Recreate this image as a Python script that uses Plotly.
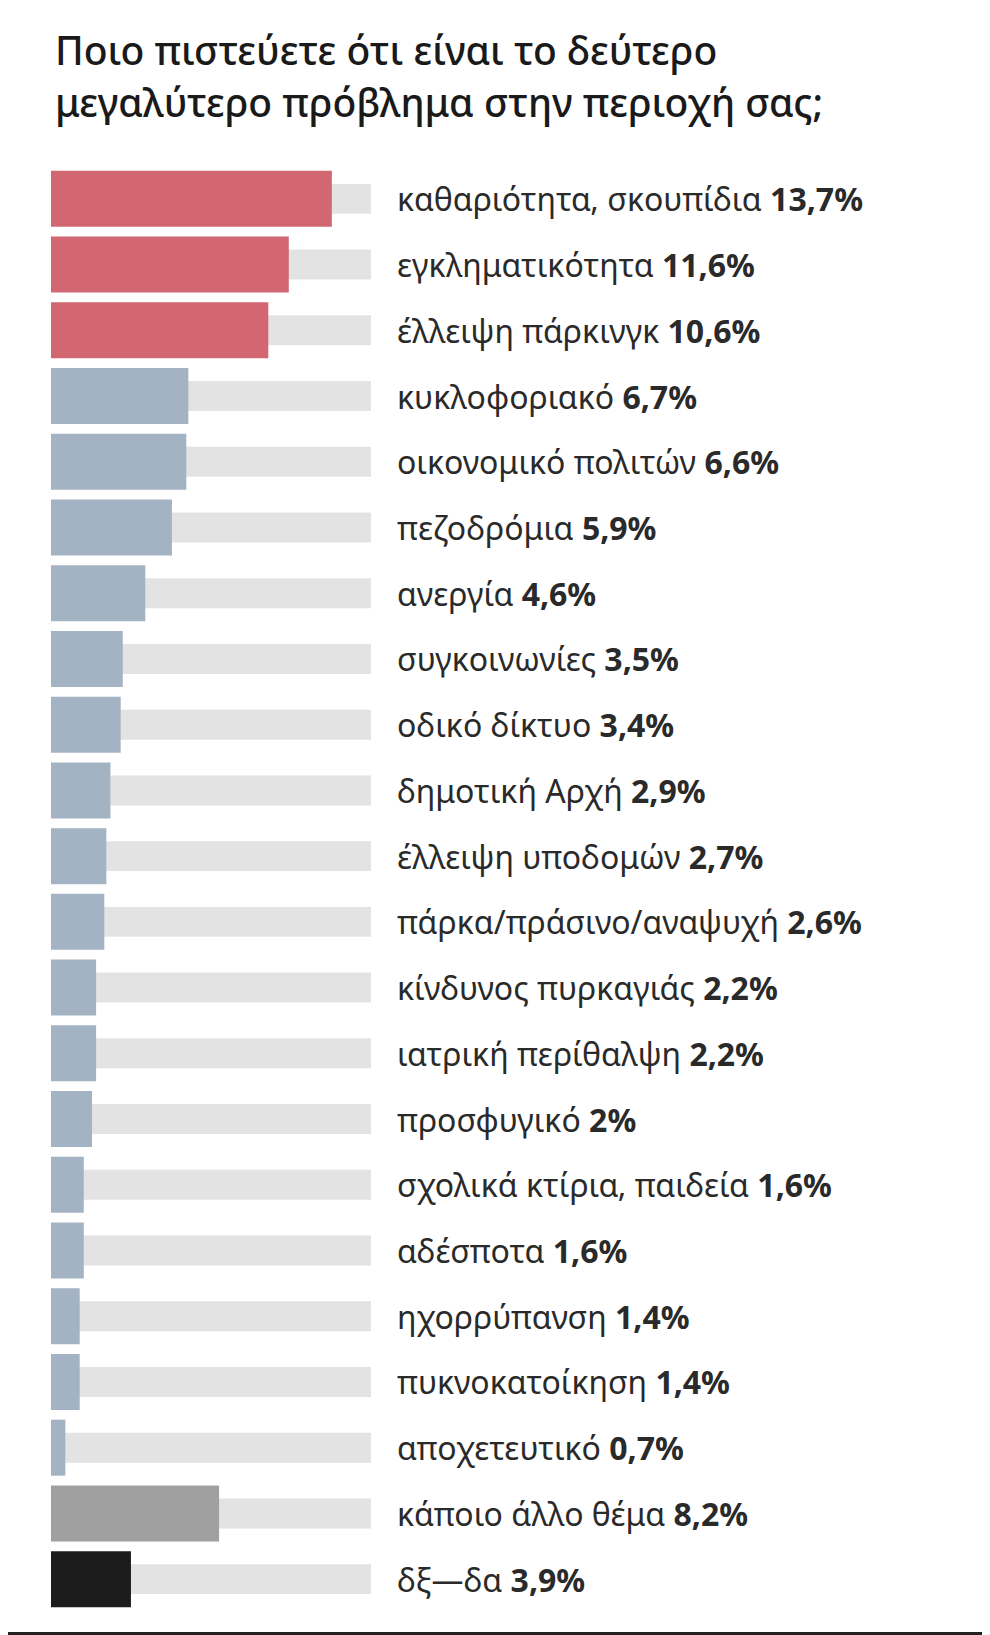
import plotly.graph_objects as go

# Δεδομένα
categories = [
    "καθαριότητα, σκουπίδια",
    "εγκληματικότητα",
    "έλλειψη πάρκινγκ",
    "κυκλοφοριακό",
    "οικονομικό πολιτών",
    "πεζοδρόμια",
    "ανεργία",
    "συγκοινωνίες",
    "οδικό δίκτυο",
    "δημοτική Αρχή",
    "έλλειψη υποδομών",
    "πάρκα/πράσινο/αναψυχή",
    "κίνδυνος πυρκαγιάς",
    "ιατρική περίθαλψη",
    "προσφυγικό",
    "σχολικά κτίρια, παιδεία",
    "αδέσποτα",
    "ηχορρύπανση",
    "πυκνοκατοίκηση",
    "αποχετευτικό",
    "κάποιο άλλο θέμα",
    "δξ—δα",
]
values = [13.7, 11.6, 10.6, 6.7, 6.6, 5.9, 4.6, 3.5, 3.4, 2.9, 2.7,
          2.6, 2.2, 2.2, 2.0, 1.6, 1.6, 1.4, 1.4, 0.7, 8.2, 3.9]
value_labels = ["13,7%", "11,6%", "10,6%", "6,7%", "6,6%", "5,9%", "4,6%",
                "3,5%", "3,4%", "2,9%", "2,7%", "2,6%", "2,2%", "2,2%", "2%",
                "1,6%", "1,6%", "1,4%", "1,4%", "0,7%", "8,2%", "3,9%"]
groups = ["top"] * 3 + ["rest"] * 17 + ["other", "dk"]

title_lines = ["Ποιο πιστεύετε ότι είναι το δεύτερο",
               "μεγαλύτερο πρόβλημα στην περιοχή σας;"]

# Χρώματα
group_colors = {"top": "#D26772", "rest": "#A4B3C3", "other": "#A0A0A0", "dk": "#1C1C1C"}
TRACK_COLOR = "#E3E3E3"
bar_colors = [group_colors[g] for g in groups]

# Διαστάσεις (η σελίδα έχει 8px περιθώριο στο body)
W, H = 990, 1635
ML, MT, MB = 43, 158, 31
PLOT_W = W - ML
PLOT_H = H - MT - MB

PX_PER_UNIT = 20.5
X_MAX = PLOT_W / PX_PER_UNIT
TRACK_LEN = 320 / PX_PER_UNIT
LABEL_X = 344 / PX_PER_UNIT


def px_to_paper_x(px):
    return (px - ML) / PLOT_W


def px_to_paper_y(py):
    return (H - MB - py) / PLOT_H


fig = go.Figure()

# Γκρι "ράγα" πίσω από κάθε μπάρα
fig.add_trace(go.Bar(
    x=[TRACK_LEN] * len(categories),
    y=categories,
    orientation="h",
    width=0.456,
    marker=dict(color=TRACK_COLOR, line_width=0),
    hoverinfo="skip",
))

fig.add_trace(go.Bar(
    x=values,
    y=categories,
    orientation="h",
    width=0.852,
    marker=dict(color=bar_colors, line_width=0),
    hovertemplate="%{y}: %{x}%<extra></extra>",
))

# Ετικέτες
for cat, lab in zip(categories, value_labels):
    fig.add_annotation(
        x=LABEL_X, y=cat, xref="x", yref="y",
        text=f"{cat} <b>{lab}</b>",
        showarrow=False, xanchor="left", yanchor="middle",
        font=dict(size=32, color="#2A2A2A", family="Noto Sans"),
    )

# Τίτλος, δύο γραμμές
for line, top_px in zip(title_lines, [13, 65]):
    fig.add_annotation(
        x=px_to_paper_x(45), y=px_to_paper_y(top_px), xref="paper", yref="paper",
        text=line, showarrow=False, xanchor="left", yanchor="top", align="left",
        font=dict(size=39, color="#1A1A1A", family="Noto Sans", weight=500),
    )

# σκούρα γραμμή στο κάτω μέρος
fig.add_shape(type="rect", xref="paper", yref="paper",
              x0=px_to_paper_x(0), x1=1, y0=px_to_paper_y(1627), y1=px_to_paper_y(1624),
              fillcolor="#222222", line_width=0)

fig.update_layout(
    width=W,
    height=H,
    margin=dict(l=ML, r=0, t=MT, b=MB),
    barmode="overlay",
    showlegend=False,
    plot_bgcolor="white",
    paper_bgcolor="white",
    xaxis=dict(range=[0, X_MAX], visible=False, fixedrange=True),
    yaxis=dict(
        categoryorder="array",
        categoryarray=categories,
        autorange="reversed",
        visible=False,
        fixedrange=True,
    ),
)

fig.write_html("out.html")
